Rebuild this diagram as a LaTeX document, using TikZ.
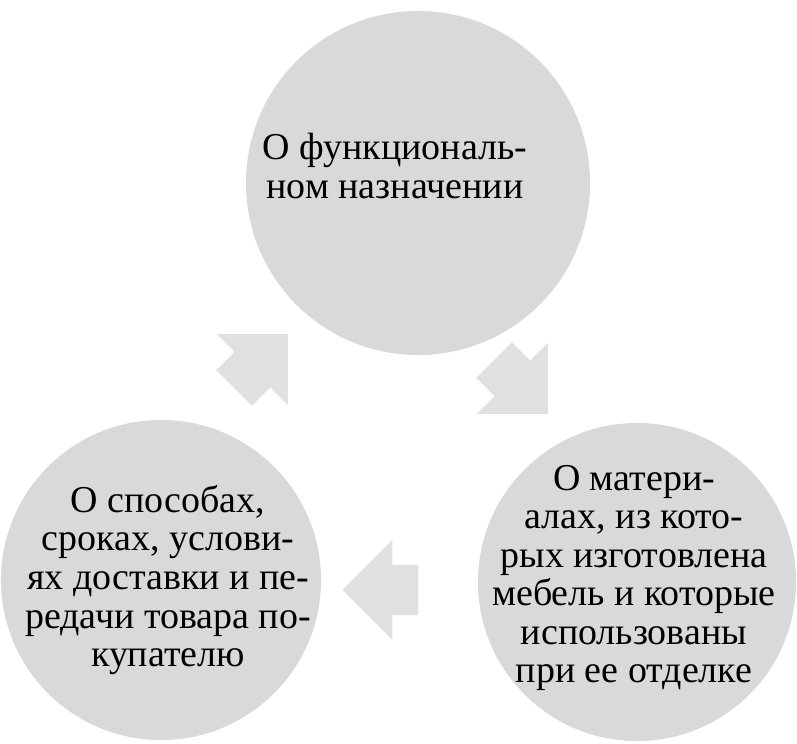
\documentclass[tikz,border=0pt]{standalone}
\usepackage{fontspec}
\setmainfont{Liberation Serif}
\usetikzlibrary{shapes.arrows}
\tikzset{
  topic/.style={circle, fill=black!15, align=center, font=\fontsize{27}{27.4}\selectfont},
  label/.style={align=center, font=\fontsize{27}{27.4}\selectfont},
  blockarrow/.style={single arrow, fill=black!12, minimum width=2.5cm, minimum height=1.9cm,
    inner xsep=0pt, inner ysep=0.62cm, single arrow head extend=0.62cm}
}
\begin{document}
\begin{tikzpicture}[x=0.025cm,y=-0.025cm]
\useasboundingbox (0,0) rectangle (797,744);
\node[topic, minimum size=8.6cm] (func) at (418,183) {};
\node[label] (functext) at (395,166) {О функциональ-\\ном назначении};
\node[topic, minimum size=8.0cm] (deliv) at (161,580) {};
\node[label] (delivtext) at (168,580) {О способах,\\сроках, услови-\\ях доставки и пе-\\редачи товара по-\\купателю};
\node[topic, minimum size=7.95cm] (mat) at (637,582) {};
\node[label] (mattext) at (634,578) {О матери-\\алах, из кото-\\рых изготовлена\\мебель и которые\\использованы\\при ее отделке};
\node[blockarrow, rotate=45] (a1) at (252,370) {};
\node[blockarrow, rotate=-45] (a2) at (512,378) {};
\node[blockarrow, rotate=180] (a3) at (393,590) {};
\end{tikzpicture}
\end{document}
